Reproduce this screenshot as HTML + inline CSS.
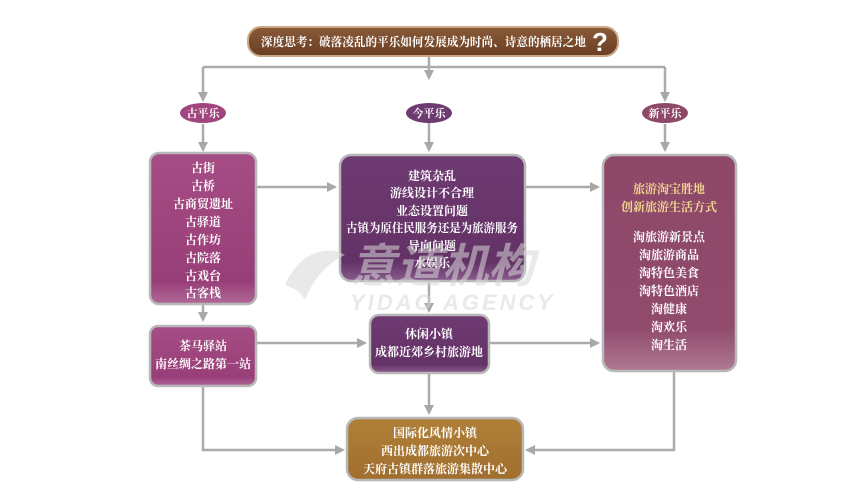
<!DOCTYPE html>
<html><head><meta charset="utf-8"><style>
html,body{margin:0;padding:0;background:#fff;width:863px;height:504px;overflow:hidden}
svg text{font-family:"Liberation Serif","Noto Serif CJK SC","Noto Sans CJK SC",serif;font-weight:bold}
</style></head><body>
<svg width="863" height="504" viewBox="0 0 863 504" xmlns="http://www.w3.org/2000/svg">
<defs>
<marker id="a" markerWidth="10" markerHeight="10" refX="8" refY="5" orient="auto" markerUnits="userSpaceOnUse"><path d="M0,0 L10,5 L0,10 z" fill="#a8a8a8"/></marker>
<linearGradient id="gl" x1="0" y1="0" x2="0" y2="1"><stop offset="0" stop-color="#a64d85"/><stop offset="0.85" stop-color="#983e78"/><stop offset="1" stop-color="#b06a98"/></linearGradient>
<linearGradient id="gc" x1="0" y1="0" x2="0" y2="1"><stop offset="0" stop-color="#6e3a72"/><stop offset="0.85" stop-color="#633266"/><stop offset="1" stop-color="#8a5c8e"/></linearGradient>
<linearGradient id="gr" x1="0" y1="0" x2="0" y2="1"><stop offset="0" stop-color="#8e4868"/><stop offset="0.8" stop-color="#904a6c"/><stop offset="1" stop-color="#b07a94"/></linearGradient>
<linearGradient id="gb" x1="0" y1="0" x2="0" y2="1"><stop offset="0" stop-color="#b08038"/><stop offset="1" stop-color="#a06e2e"/></linearGradient>
<linearGradient id="gt" x1="0" y1="0" x2="0" y2="1"><stop offset="0" stop-color="#8a5a38"/><stop offset="1" stop-color="#6a3e22"/></linearGradient>
</defs>
<g fill="none" stroke="#ababab" stroke-width="2.5">
<path d="M203,67 H665"/>
<path d="M429,55 V78" marker-end="url(#a)"/>
<path d="M203,67 V100" marker-end="url(#a)"/>
<path d="M665,67 V100" marker-end="url(#a)"/>
<path d="M429,122 V150" marker-end="url(#a)"/>
<path d="M203,124 V150" marker-end="url(#a)"/>
<path d="M665,124 V150" marker-end="url(#a)"/>
<path d="M256,187 H335" marker-end="url(#a)"/>
<path d="M525,187 H598" marker-end="url(#a)"/>
<path d="M203,304 V320" marker-end="url(#a)"/>
<path d="M429,281 V311" marker-end="url(#a)"/>
<path d="M257,343 H365" marker-end="url(#a)"/>
<path d="M489,343 H598" marker-end="url(#a)"/>
<path d="M429,373 V413" marker-end="url(#a)"/>
<path d="M203,386 V450 H343" marker-end="url(#a)"/>
<path d="M674,371 V450 H527" marker-end="url(#a)"/>
</g>
<!-- title -->
<rect x="248" y="27" width="370" height="29" rx="13" fill="url(#gt)" stroke="#c9a98a" stroke-width="2"/>
<text x="261" y="46" font-size="12" fill="#fff" textLength="325" lengthAdjust="spacingAndGlyphs">深度思考：破落凌乱的平乐如何发展成为时尚、诗意的栖居之地</text>
<text x="592" y="51" font-size="26" fill="#fff" style="font-family:'Liberation Sans',sans-serif">?</text>
<!-- ovals -->
<ellipse cx="203" cy="113" rx="23" ry="10" fill="#a0457e"/>
<text x="203" y="117" font-size="11" fill="#fff" text-anchor="middle">古平乐</text>
<ellipse cx="429" cy="113" rx="23" ry="10" fill="#6e3a72"/>
<text x="429" y="117" font-size="11" fill="#fff" text-anchor="middle">今平乐</text>
<ellipse cx="665" cy="113" rx="23" ry="10" fill="#8e4868"/>
<text x="665" y="117" font-size="11" fill="#fff" text-anchor="middle">新平乐</text>
<!-- boxes -->
<g stroke="#b8b8b8" stroke-width="2.5">
<rect x="150" y="153" width="106" height="151" rx="9" fill="url(#gl)"/>
<rect x="340" y="155" width="185" height="126" rx="11" fill="url(#gc)"/>
<rect x="603" y="155" width="133" height="216" rx="11" fill="url(#gr)"/>
<rect x="150" y="326" width="106" height="60" rx="8" fill="url(#gl)"/>
<rect x="370" y="315" width="119" height="58" rx="9" fill="url(#gc)"/>
<rect x="347" y="418" width="176" height="62" rx="11" fill="url(#gb)"/>
</g>
<g fill="#fff" font-size="12" text-anchor="middle">
<text x="203" y="172">古街</text><text x="203" y="190">古桥</text><text x="203" y="208">古商贸遗址</text><text x="203" y="226">古驿道</text><text x="203" y="244">古作坊</text><text x="203" y="262">古院落</text><text x="203" y="280">古戏台</text><text x="203" y="297">古客栈</text>
<text x="432" y="180">建筑杂乱</text><text x="432" y="197">游线设计不合理</text><text x="432" y="215">业态设置问题</text><text x="432" y="232" textLength="172" lengthAdjust="spacingAndGlyphs">古镇为原住民服务还是为旅游服务</text><text x="432" y="250">导向问题</text><text x="432" y="267">水娱乐</text>
<text x="669" y="193" fill="#f0d890">旅游淘宝胜地</text><text x="669" y="211" fill="#f0d890">创新旅游生活方式</text>
<text x="669" y="241">淘旅游新景点</text><text x="669" y="259">淘旅游商品</text><text x="669" y="277">淘特色美食</text><text x="669" y="295">淘特色酒店</text><text x="669" y="313">淘健康</text><text x="669" y="331">淘欢乐</text><text x="669" y="349">淘生活</text>
<text x="203" y="350">茶马驿站</text><text x="203" y="368">南丝绸之路第一站</text>
<text x="429" y="338">休闲小镇</text><text x="429" y="356">成都近郊乡村旅游地</text>
<text x="435" y="437">国际化风情小镇</text><text x="435" y="455">西出成都旅游次中心</text><text x="435" y="473">天府古镇群落旅游集散中心</text>
</g>
<!-- watermark -->
<g fill="#d8d8d8" opacity="0.55">
<text x="350" y="282" font-size="46" font-style="italic" style="font-family:'Noto Sans CJK SC',sans-serif">意道机构</text>
<text x="350" y="310" font-size="22" font-style="italic" letter-spacing="3" style="font-family:'Liberation Sans',sans-serif">YIDAO AGENCY</text>
<path d="M285,285 C300,250 330,245 345,255 C330,262 315,275 305,300 C300,290 292,288 285,285z"/>
</g>
</svg>
</body></html>
